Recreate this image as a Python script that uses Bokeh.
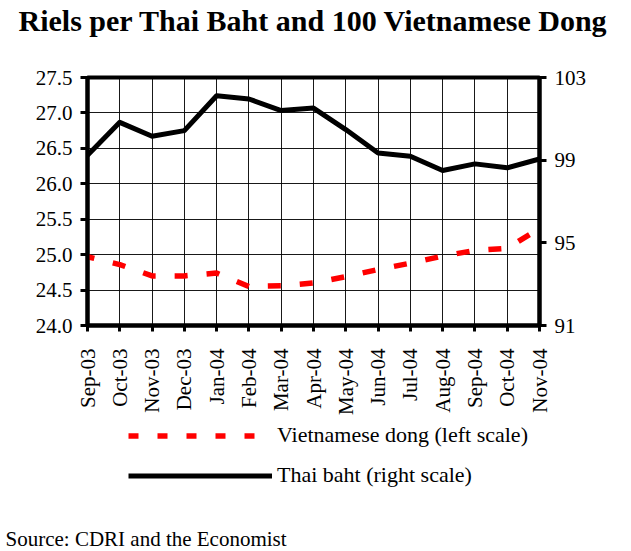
import math
from bokeh.plotting import figure
from bokeh.layouts import column
from bokeh.models import Range1d, LinearAxis, FixedTicker, Legend, LegendItem, Title
from bokeh.embed import file_html
from bokeh.resources import INLINE

# ---- data ----
months = ["Sep-03", "Oct-03", "Nov-03", "Dec-03", "Jan-04", "Feb-04", "Mar-04",
          "Apr-04", "May-04", "Jun-04", "Jul-04", "Aug-04", "Sep-04", "Oct-04", "Nov-04"]
dong = [24.97, 24.86, 24.70, 24.70, 24.74, 24.55, 24.56, 24.60, 24.69, 24.79,
        24.88, 24.98, 25.06, 25.09, 25.37]
baht = [99.24, 100.83, 100.16, 100.43, 102.12, 101.96, 101.40, 101.52, 100.48,
        99.35, 99.19, 98.50, 98.82, 98.63, 99.06]
left_ticks = [24.0, 24.5, 25.0, 25.5, 26.0, 26.5, 27.0, 27.5]
right_ticks = [91, 95, 99, 103]
title_text = "Riels per Thai Baht and 100 Vietnamese Dong"
source_text = "Source: CDRI and the Economist"
dong_label = "Vietnamese dong (left scale)"
baht_label = "Thai baht (right scale)"

xs = list(range(len(months)))
FONT = "Liberation Serif"
RED = "#ff0000"


def blank_strip(height, **kw):
    f = figure(width=630, height=height, output_backend="svg",
               toolbar_location=None, x_range=Range1d(0, 1), y_range=Range1d(0, 1),
               x_axis_location=None, y_axis_location=None,
               min_border_left=0, min_border_right=0, **kw)
    f.outline_line_color = None
    f.grid.visible = False
    f.background_fill_color = "white"
    f.border_fill_color = "white"
    return f


# ---------------- title strip ----------------
t = blank_strip(40, min_border_top=36, min_border_bottom=0)
t.add_layout(Title(text=title_text, align="left", offset=-69, standoff=0,
                   text_font=FONT, text_font_style="bold",
                   text_font_size="30px", text_color="black"), "above")

# ---------------- main chart ----------------
p = figure(frame_width=452, frame_height=248, output_backend="svg",
           toolbar_location=None,
           x_range=Range1d(0, len(months) - 1),
           y_range=Range1d(left_ticks[0], left_ticks[-1]),
           min_border_left=87, min_border_right=91, min_border_top=37,
           min_border_bottom=95)
p.extra_y_ranges = {"right": Range1d(right_ticks[0], right_ticks[-1])}

p.outline_line_color = "black"
p.outline_line_width = 4
p.background_fill_color = "white"
p.border_fill_color = "white"

p.xgrid.ticker = FixedTicker(ticks=xs)
p.ygrid.ticker = FixedTicker(ticks=left_ticks)
for g in (p.xgrid, p.ygrid):
    g.grid_line_color = "black"
    g.grid_line_width = 1
    g.grid_line_alpha = 0.9

xa = p.xaxis[0]
xa.ticker = FixedTicker(ticks=xs)
xa.major_label_overrides = {i: m for i, m in zip(xs, months)}
xa.major_label_orientation = math.pi / 2
xa.major_label_standoff = 17
xa.major_tick_out = 6
xa.major_tick_in = 0

ya = p.yaxis[0]
ya.ticker = FixedTicker(ticks=left_ticks)
ya.major_label_overrides = {v: f"{v:.1f}" for v in left_ticks}
ya.major_label_standoff = 8
ya.major_tick_out = 7
ya.major_tick_in = 0

ra = LinearAxis(y_range_name="right", ticker=FixedTicker(ticks=right_ticks))
ra.major_label_standoff = 8
ra.major_tick_out = 7
ra.major_tick_in = 0
p.add_layout(ra, "right")

for ax in (xa, ya, ra):
    ax.axis_line_color = "black"
    ax.axis_line_width = 4
    ax.major_tick_line_color = "black"
    ax.major_tick_line_width = 3
    ax.minor_tick_line_color = None
    ax.major_label_text_font = FONT
    ax.major_label_text_font_size = "21px"
    ax.major_label_text_color = "black"

p.line(xs, dong, line_color=RED, line_width=5.5,
       line_dash="13 19", line_dash_offset=6)
p.line(xs, baht, y_range_name="right", line_color="black",
       line_width=5, line_join="round")

# ---------------- legend + source strip ----------------
q = blank_strip(130, min_border_top=0, min_border_bottom=25)

# legend samples (series data lie outside this strip's 0..1 view)
lg_dong = q.line(xs, dong, line_color=RED, line_width=5.5, line_dash="10 19")
lg_baht = q.line(xs, baht, line_color="black", line_width=5)

legend = Legend(items=[LegendItem(label=dong_label, renderers=[lg_dong]),
                       LegendItem(label=baht_label, renderers=[lg_baht])],
                location=(41, 36), orientation="vertical",
                glyph_width=144, glyph_height=25, label_height=25,
                spacing=14, padding=0, margin=0, label_standoff=5,
                border_line_color=None, background_fill_alpha=0,
                label_text_font=FONT, label_text_font_size="22px",
                label_text_color="black")
q.add_layout(legend, "center")

q.add_layout(Title(text=source_text, align="left", offset=-82, standoff=0,
                   text_font=FONT, text_font_style="normal",
                   text_font_size="21px", text_color="black"), "below")

layout = column(t, p, q, spacing=0)
open("out.html", "w").write(file_html(layout, INLINE))
